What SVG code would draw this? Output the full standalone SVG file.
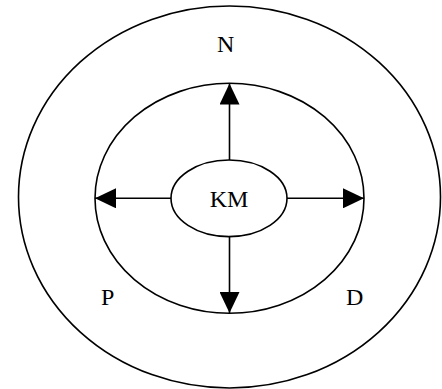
<svg xmlns="http://www.w3.org/2000/svg" width="442" height="389" viewBox="0 0 442 389">
<style>
.ring{fill:none;stroke:#000;stroke-width:1.6}
.node{fill:#fff;stroke:#000;stroke-width:1.6}
.lbl{font-family:"Liberation Serif","Times New Roman",serif;font-size:24px;fill:#000}
.conn{stroke:#000;stroke-width:1.6;fill:none;marker-end:url(#ah)}
</style>
<defs>
<marker id="ah" markerUnits="userSpaceOnUse" markerWidth="21" markerHeight="20" refX="21" refY="10" orient="auto" viewBox="0 0 21 20">
<path d="M0,0 L21,10 L0,20 Z" fill="#000"/>
</marker>
</defs>
<g id="outer">
<ellipse class="ring" cx="229.5" cy="197" rx="211" ry="191"/>
<text class="lbl" x="225.7" y="51.7" text-anchor="middle">N</text>
<text class="lbl" x="101" y="305">P</text>
<text class="lbl" x="346" y="305">D</text>
</g>
<g id="inner">
<ellipse class="ring" cx="229.5" cy="198.3" rx="134.5" ry="115"/>
</g>
<g id="connectors">
<line class="conn" x1="229.5" y1="160" x2="229.5" y2="83.5"/>
<line class="conn" x1="229.5" y1="236.5" x2="229.5" y2="313"/>
<line class="conn" x1="171" y1="198.3" x2="95" y2="198.3"/>
<line class="conn" x1="287" y1="198.3" x2="364" y2="198.3"/>
</g>
<g id="km">
<ellipse class="node" cx="229" cy="198.3" rx="58" ry="38.3"/>
<text class="lbl" x="229" y="206.5" text-anchor="middle">KM</text>
</g>
</svg>
